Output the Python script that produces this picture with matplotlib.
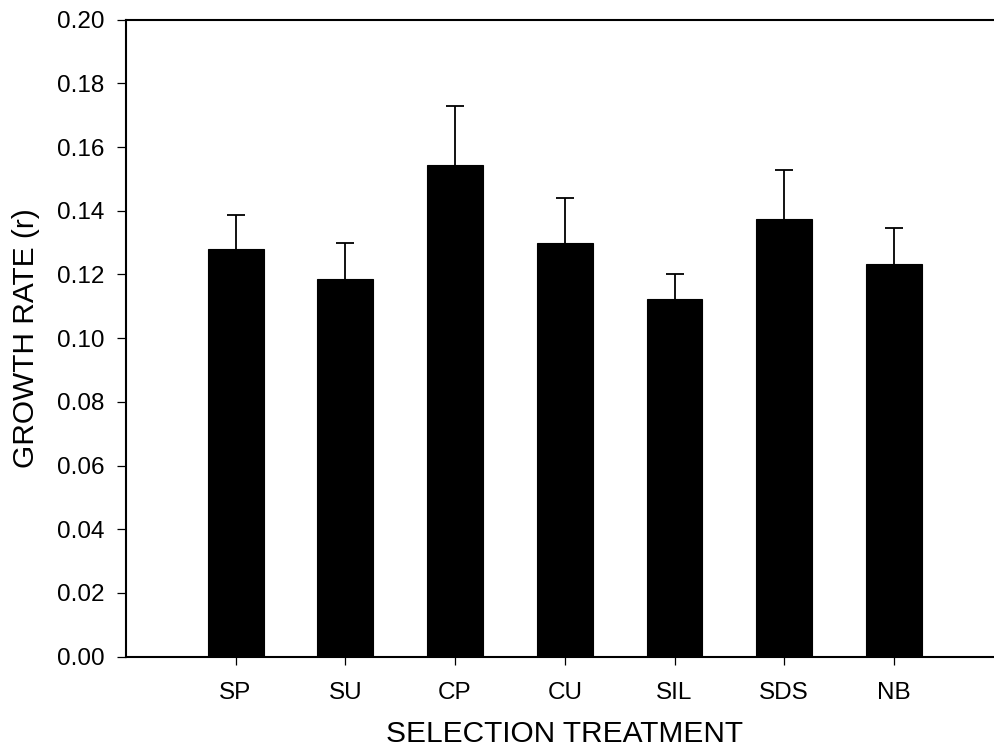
import numpy as np
import matplotlib
matplotlib.use("Agg")
import matplotlib.pyplot as plt

# ------------------------------------------------------------
# Data
# ------------------------------------------------------------
treatments = ["SP", "SU", "CP", "CU", "SIL", "SDS", "NB"]
growth_rate = [0.128, 0.1187, 0.1545, 0.1298, 0.1124, 0.1375, 0.1234]
error_upper = [0.0108, 0.0113, 0.0183, 0.0141, 0.0078, 0.0153, 0.0112]

plt.rcParams["font.family"] = ["Liberation Sans", "DejaVu Sans"]

# ------------------------------------------------------------
# Plot
# ------------------------------------------------------------
fig = plt.figure(figsize=(9.95, 7.51), dpi=100)
ax = fig.add_axes([0.1264, 0.1256, 0.8824, 0.8483])

x = np.arange(1, len(treatments) + 1)
ax.bar(x, growth_rate, width=0.51, color="black", edgecolor="black", linewidth=0.8, zorder=2)
# symmetric bars drawn behind the bars, so only the upper half shows
ax.errorbar(x, growth_rate, yerr=error_upper, fmt="none",
            ecolor="black", elinewidth=1.3, capsize=6.5, capthick=1.3, zorder=1)

ax.set_xlim(0, 8)
ax.set_ylim(0, 0.20)
ax.set_xticks(x)
ax.set_xticklabels(treatments, fontsize=17.5)
ax.set_yticks(np.arange(0, 0.201, 0.02))
ax.set_yticklabels([f"{v:.2f}" for v in np.arange(0, 0.201, 0.02)], fontsize=17.5)

ax.tick_params(axis="y", direction="out", length=6.5, width=0.9, pad=9)
ax.tick_params(axis="x", direction="out", length=6, width=0.9, pad=12)

for side in ["left", "bottom", "top"]:
    ax.spines[side].set_linewidth(1.5)
ax.spines["right"].set_visible(False)

ax.set_xlabel("SELECTION TREATMENT", fontsize=21.5, labelpad=12)
ax.set_ylabel("GROWTH RATE (r)", fontsize=21.5, labelpad=12)

fig.savefig("out.png", dpi=100)
